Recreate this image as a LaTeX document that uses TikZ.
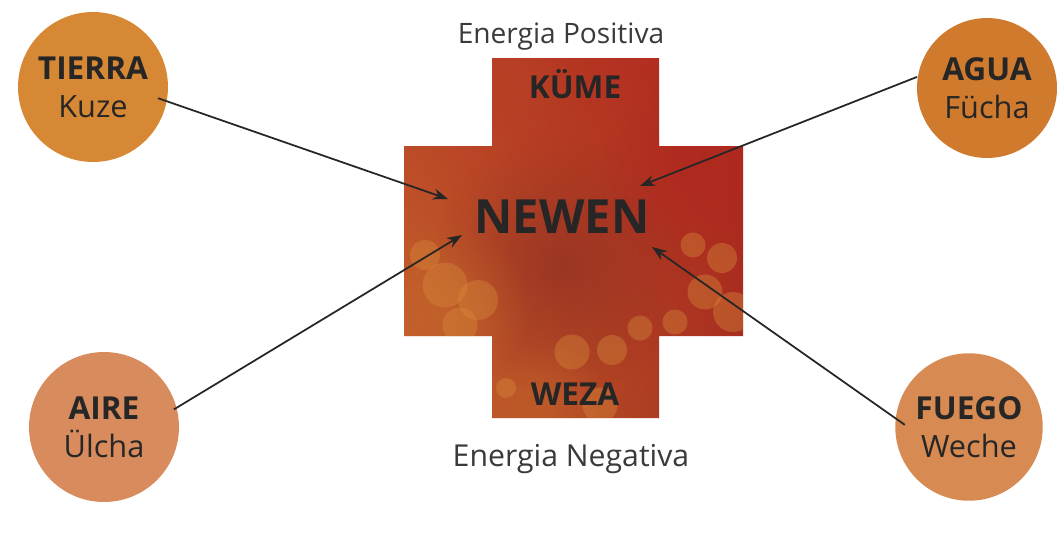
\documentclass[tikz,border=0pt]{standalone}
\usepackage{fontspec}
\setmainfont{Open Sans}
\usetikzlibrary{arrows.meta, positioning, calc, shadings, fadings}
\definecolor{cearth}{HTML}{D68835}
\definecolor{cwater}{HTML}{D07A2E}
\definecolor{cair}{HTML}{D88B5C}
\definecolor{cfire}{HTML}{D78A52}
\definecolor{cred}{HTML}{B0261E}
\definecolor{cbrick}{HTML}{B94426}
\definecolor{corange}{HTML}{C4652C}
\definecolor{crust}{HTML}{A5301F}
\definecolor{cspot}{HTML}{D68A3A}
\definecolor{cdeep}{HTML}{8A2E22}
\definecolor{cdark}{HTML}{262626}
\definecolor{cgrey}{HTML}{3A3A3A}
\tikzfading[name=softglow, inner color=transparent!0, outer color=transparent!100]
\tikzset{
  every picture/.style={line width=1pt},
  orb/.style={circle, fill=#1, inner sep=0pt, align=center, text=cdark, font=\fontsize{17.5}{21.5}\selectfont},
  orb/.default=cearth,
  arrow/.style={-{Stealth[length=3mm, width=2.2mm]}, draw=cdark, line width=1pt},
  armtext/.style={anchor=base, text=cdark, font=\bfseries\fontsize{18}{21.5}\selectfont},
  energy/.style={anchor=base, text=cgrey},
}

\begin{document}
\begin{tikzpicture}[x=0.02cm, y=-0.02cm,
  spot/.style={fill=#1, opacity=0.4},
  spot/.default=cspot,
  glow/.style={fill=#1, path fading=softglow}]
  \useasboundingbox (0,0) rectangle (1057,548);
  % ---------- cross ----------
  \begin{scope}
    \clip (492,58) -- (659,58) -- (659,146) -- (743,146) -- (743,336) -- (659,336) -- (659,418)
      -- (492,418) -- (492,336) -- (404,336) -- (404,146) -- (492,146) -- cycle;
    \shade[upper left=cbrick, upper right=cred, lower left=corange, lower right=crust] (404,58) rectangle (743,418);
    \fill[glow=cdeep, opacity=0.6] (560,265) circle (2.6cm);
    \fill[glow=corange, opacity=0.7] (440,310) circle (1.8cm);
    \fill[glow=cred, opacity=0.6] (690,175) circle (1.8cm);
    \fill[glow=cbrick, opacity=0.5] (515,80) circle (1.4cm);
    \fill[glow=corange, opacity=0.5] (545,400) circle (1.2cm);
    \foreach \px/\py/\r in {445/285/0.45, 478/300/0.4, 425/255/0.3, 460/325/0.35,
                            572/352/0.35, 612/350/0.3, 640/328/0.25, 600/405/0.35, 506/388/0.2,
                            693/245/0.25, 722/258/0.3, 705/292/0.35, 733/312/0.4, 675/322/0.25}
      \fill[spot] (\px,\py) circle (\r cm);
  \end{scope}
  \node[font=\bfseries\fontsize{26.8}{30}\selectfont, text=cdark, anchor=base] (newen) at (562,233) {NEWEN};
  \node[armtext] (kume) at (575,98) {KÜME};
  \node[armtext] (weza) at (575,405) {WEZA};
  \node[energy, font=\fontsize{16}{20}\selectfont] (positiva) at (561,43) {Energia Positiva};
  \node[energy, font=\fontsize{17.2}{22}\selectfont] (negativa) at (571,466) {Energia Negativa};
  % ---------- elements ----------
  \foreach \name/\cx/\cy/\sz/\col/\main/\sub in {tierra/93/87/3.0/cearth/TIERRA/Kuze,
      agua/987/88/2.8/cwater/AGUA/Fücha, aire/104/427/3.0/cair/AIRE/Ülcha, fuego/969/427/2.95/cfire/FUEGO/Weche}
    \node[orb=\col, minimum size=\sz cm] (\name) at (\cx,\cy) {{\bfseries\fontsize{18}{21.5}\selectfont\main}\\\sub};
  \coordinate (tipearth) at (448,199);
  \coordinate (tipwater) at (640,186);
  \coordinate (tipair) at (462,235);
  \coordinate (tipfire) at (652,247);
  \draw[arrow, shorten <=-0.2cm] (tierra.-11) -- (tipearth);
  \draw[arrow] (agua.171) -- (tipwater);
  \draw[arrow, shorten <=-0.08cm] (aire.15) -- (tipair);
  \draw[arrow, shorten <=-0.24cm] (fuego.173) -- (tipfire);
\end{tikzpicture}
\end{document}
